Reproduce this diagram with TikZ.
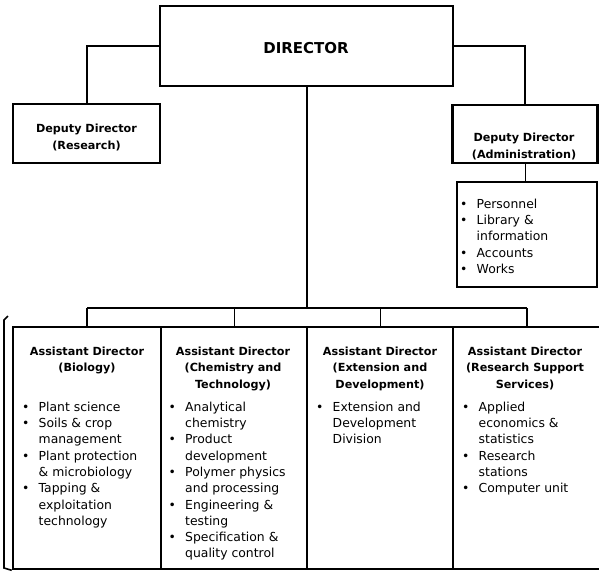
\documentclass[tikz,border=0pt]{standalone}
\usepackage{fontspec}
\setmainfont{DejaVu Sans}
\newcommand{\bl}{\textbullet}
\newcommand{\hdtext}[1]{\begin{tabular}{@{}c@{}}#1\end{tabular}}
\newcommand{\itemlist}[1]{\begin{tabular}{@{}p{16.5pt}@{}l@{}}#1\end{tabular}}
\begin{document}
\begin{tikzpicture}[x=1pt,y=-1pt,
  box/.style={draw,line width=2.6pt,inner sep=0pt},
  hd/.style={inner sep=0pt,anchor=north,font=\bfseries\fontsize{11.2}{16.5}\selectfont},
  dep/.style={inner sep=0pt,anchor=north,font=\bfseries\fontsize{11.2}{17}\selectfont},
  lst/.style={inner sep=0pt,anchor=north west,font=\fontsize{12.4}{16.3}\selectfont},
  link/.style={line width=2pt},
  tick/.style={line width=1pt}]
  \useasboundingbox (0,0) rectangle (599,579);
  \clip (0,0) rectangle (599,579);

  % top level
  \node[box,minimum width=293pt,minimum height=80pt] (dir) at (306.5,46) {};
  \node[anchor=base,inner sep=0pt,font=\bfseries\fontsize{15}{18}\selectfont] (dirT) at (306,53) {DIRECTOR};
  \node[box,minimum width=147pt,minimum height=59pt] (dres) at (86.5,133.5) {};
  \node[box,minimum width=145pt,minimum height=58pt] (dadm) at (525,134) {};
  \node[box,minimum width=140pt,minimum height=105pt] (lbox) at (527,234.5) {};

  % assistant directors
  \foreach \n/\cx/\w in {c1/87/148, c2/234/146, c3/380/146, c4/527/148}
    \node[box,minimum width=\w pt,minimum height=242pt] (\n) at (\cx,448) {};

  \coordinate (barL) at (c1.north |- 0,308);
  \coordinate (barR) at (c4.north |- 0,308);
  \draw[link] (dir.west) -| (dres.north);
  \draw[link] (dir.east) -| (dadm.north);
  \draw[tick] (dadm.south) -- (dadm.south |- lbox.north);
  \draw[link] (dir.south) -- (dir.south |- barL);
  \draw[line width=2.6pt] (barL) -- (barR);
  \draw[link] (barL) -- (c1.north);
  \draw[link] (barR) -- (c4.north);
  \foreach \n in {c2,c3}
    \draw[tick] (\n.north |- barL) -- (\n.north);
  \draw[line width=1.6pt] (8,316) -- (4,320) -- (4,568) -- (c1.south west);

  % texts
  \node[dep] (dresT) at (86.5,120.1) {\hdtext{Deputy Director\\(Research)}};
  \node[dep] (dadmT) at (524,129.1) {\hdtext{Deputy Director\\(Administration)}};
  \node[lst] (lboxT) at (460,196.6) {\itemlist{\bl&Personnel\\\bl&Library \&\\&information\\\bl&Accounts\\\bl&Works}};

  \node[hd] (h1) at (87,343.5) {\hdtext{Assistant Director\\(Biology)}};
  \node[hd] (h2) at (233,343.5) {\hdtext{Assistant Director\\(Chemistry and\\Technology)}};
  \node[hd] (h3) at (380,343.5) {\hdtext{Assistant Director\\(Extension and\\Development)}};
  \node[hd] (h4) at (525,343.5) {\hdtext{Assistant Director\\(Research Support\\Services)}};

  \node[lst] (l1) at (22,399.6) {\itemlist{\bl&Plant science\\\bl&Soils \& crop\\&management\\\bl&Plant protection\\&\& microbiology\\\bl&Tapping \&\\&exploitation\\&technology}};
  \node[lst] (l2) at (168.5,399.6) {\itemlist{\bl&Analytical\\&chemistry\\\bl&Product\\&development\\\bl&Polymer physics\\&and processing\\\bl&Engineering \&\\&testing\\\bl&Specification \&\\&quality control}};
  \node[lst] (l3) at (316,399.6) {\itemlist{\bl&Extension and\\&Development\\&Division}};
  \node[lst] (l4) at (462,399.6) {\itemlist{\bl&Applied\\&economics \&\\&statistics\\\bl&Research\\&stations\\\bl&Computer unit}};
\end{tikzpicture}
\end{document}
